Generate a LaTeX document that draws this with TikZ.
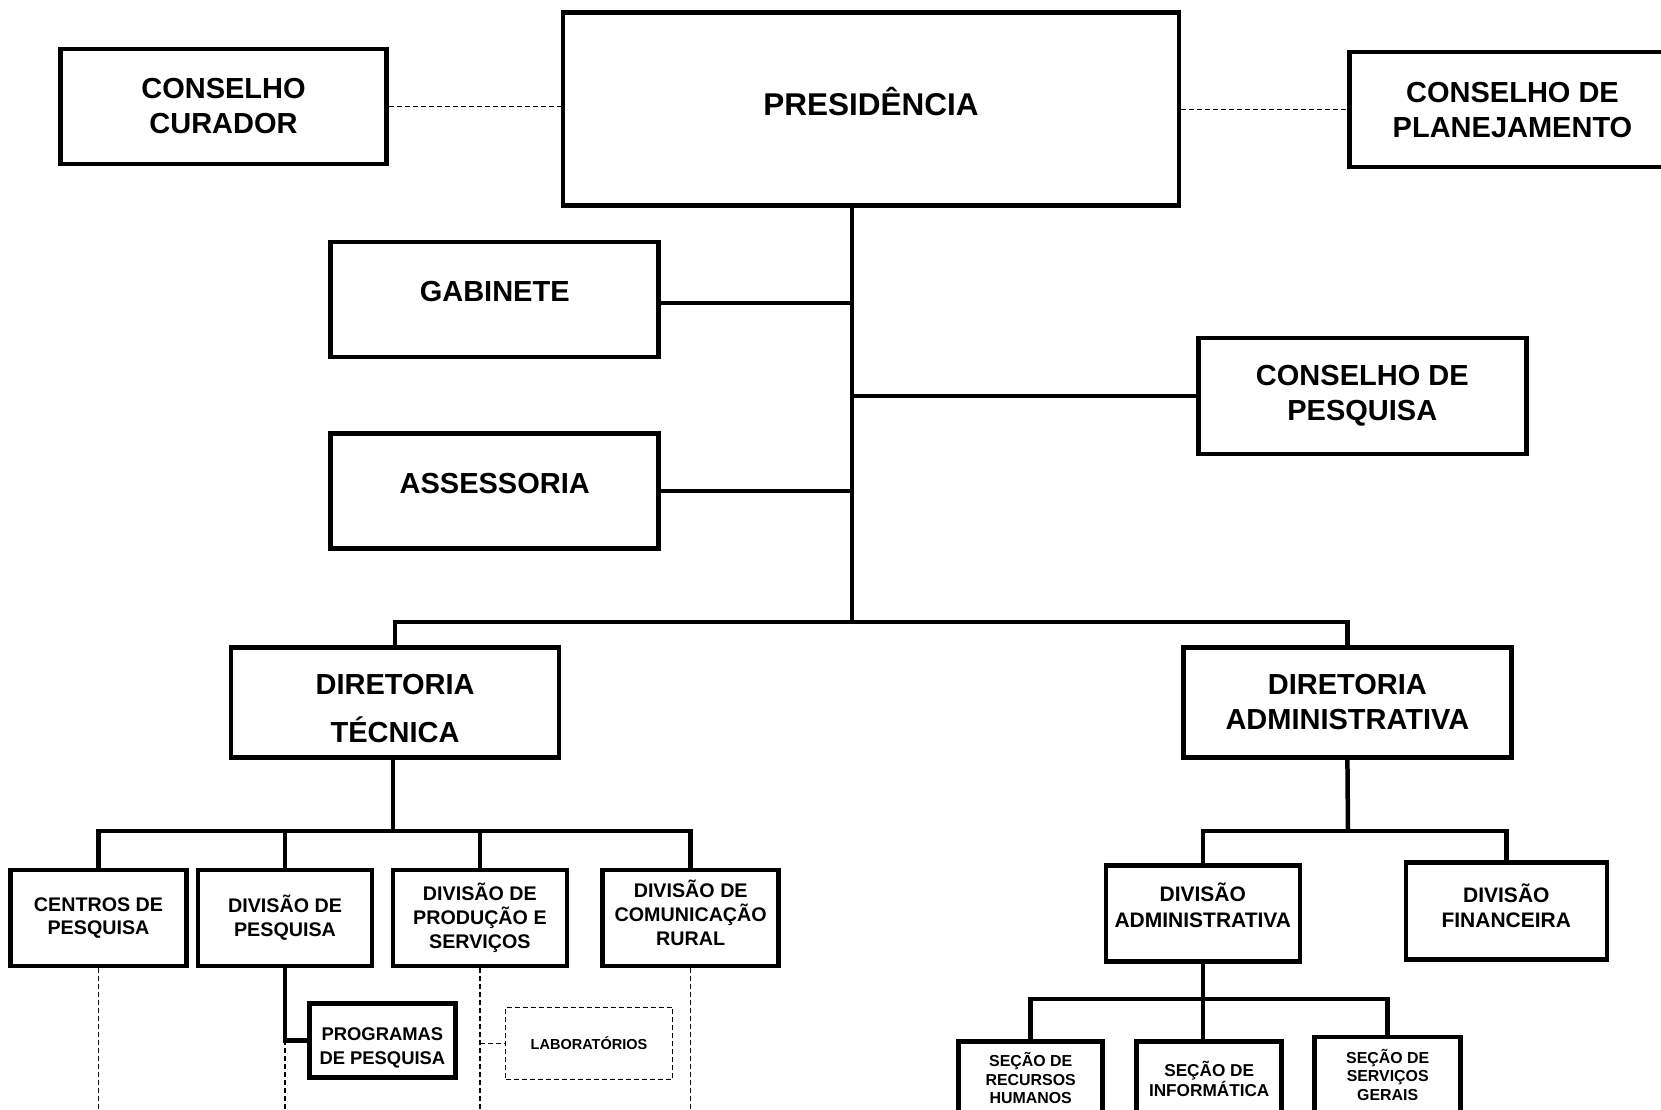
\documentclass[tikz,border=0pt]{standalone}
\usepackage{fontspec}
\setmainfont{Liberation Sans}
\usetikzlibrary{positioning}

\begin{document}
\begin{tikzpicture}[x=1pt,y=-1pt,every node/.style={align=center,inner sep=0pt},
  box/.style={draw,line width=4.5pt},
  big/.style={font=\fontsize{29}{35}\selectfont\bfseries},
  mid/.style={font=\fontsize{19.7}{23.8}\selectfont\bfseries},
  link/.style={line width=4.5pt},
  dashlink/.style={line width=1.2pt,dash pattern=on 5pt off 3pt}]
\useasboundingbox (0,0) rectangle (1661,1110);
\clip (0,0) rectangle (1661,1110);
% top level
\node[box,minimum width=616pt,minimum height=193pt,font=\fontsize{31.5}{38}\selectfont\bfseries,text height=22pt,text depth=8pt] (pres) at (871,109) {PRESIDÊNCIA};
\node[box,big,minimum width=326pt,minimum height=115pt] (ccur) at (223.5,106.5) {CONSELHO\\CURADOR};
\node[box,big,minimum width=326pt,minimum height=115pt] (cplan) at (1512.5,109.6) {CONSELHO DE\\PLANEJAMENTO};
\node[box,big,minimum width=328pt,minimum height=115pt,text height=21pt,text depth=16pt] (gab) at (494.7,299.3) {GABINETE};
\node[box,big,minimum width=328pt,minimum height=116pt] (cpesq) at (1362.3,396.2) {CONSELHO DE\\PESQUISA};
\node[box,big,minimum width=328pt,minimum height=115pt,text height=21pt,text depth=16pt] (assess) at (494.7,491) {ASSESSORIA};
\node[box,big,minimum width=328pt,minimum height=110pt] (dtec) at (395.1,702.3) {\rule{0pt}{32pt}DIRETORIA\\[13pt]TÉCNICA};
\node[box,big,minimum width=328pt,minimum height=110pt] (dadm) at (1347.4,702.3) {DIRETORIA\\ADMINISTRATIVA};
% divisions
\node[box,mid,minimum width=176pt,minimum height=96pt] (cent) at (98.5,918) {CENTROS DE\\PESQUISA};
\node[box,mid,minimum width=174pt,minimum height=96pt] (dpesq) at (285,918) {DIVISÃO DE\\PESQUISA};
\node[box,mid,minimum width=174pt,minimum height=96pt] (dprod) at (479.9,918) {DIVISÃO DE\\PRODUÇÃO E\\SERVIÇOS};
\node[box,mid,minimum width=176pt,minimum height=96pt] (dcom) at (690.7,918) {DIVISÃO DE\\COMUNICAÇÃO\\RURAL\rule[-11pt]{0pt}{0pt}};
\node[box,font=\fontsize{21}{25.4}\selectfont\bfseries,minimum width=194pt,minimum height=96pt] (divadm) at (1202.8,913.6) {DIVISÃO\\ADMINISTRATIVA\rule[-17pt]{0pt}{0pt}};
\node[box,font=\fontsize{21}{25.4}\selectfont\bfseries,minimum width=201pt,minimum height=97pt] (divfin) at (1506.3,911) {DIVISÃO\\FINANCEIRA\rule[-11pt]{0pt}{0pt}};
\node[box,font=\fontsize{18.4}{23.3}\selectfont\bfseries,minimum width=146pt,minimum height=74pt] (prog) at (382.4,1040.3) {\rule{0pt}{28pt}PROGRAMAS\\DE PESQUISA};
\node[draw,dashlink,font=\fontsize{14.5}{17}\selectfont\bfseries,minimum width=167pt,minimum height=72pt] (lab) at (589,1043.4) {LABORATÓRIOS};
% sections
\node[box,font=\fontsize{15.9}{18.5}\selectfont\bfseries,minimum width=144pt,minimum height=74pt] (srh) at (1030.7,1078.4) {SEÇÃO DE\\RECURSOS\\HUMANOS};
\node[box,font=\fontsize{17.2}{20}\selectfont\bfseries,minimum width=145pt,minimum height=75pt] (sinf) at (1209.2,1078.9) {SEÇÃO DE\\INFORMÁTICA};
\node[box,font=\fontsize{15.9}{18.5}\selectfont\bfseries,minimum width=146pt,minimum height=75pt] (ssg) at (1387.7,1074.7) {SEÇÃO DE\\SERVIÇOS\\GERAIS};
% bus points
\coordinate (trk) at (852,622);
\coordinate (tbus) at (393,831);
\coordinate (abus) at (1348,831);
\coordinate (sbus) at (1203,999);
\coordinate (bot) at (0,1116);
% connectors
\draw[dashlink] (ccur.east) -- (ccur.east -| pres.west);
\draw[dashlink] (pres.east |- cplan.west) -- (cplan.west);
\draw[link] (pres.south -| trk) -- (trk);
\draw[link] ([yshift=-3.5pt]gab.east) -- ([yshift=-3.5pt]gab.east -| trk);
\draw[link] (cpesq.west) -- (cpesq.west -| trk);
\draw[link] (assess.east) -- (assess.east -| trk);
\draw[link] (dtec.north) |- (trk) -| (dadm.north);
\draw[link] (dtec.south -| tbus) -- (tbus);
\draw[link] (cent.north) |- (tbus) -| (dcom.north);
\draw[link] (dpesq.north) -- (dpesq.north |- tbus);
\draw[link] (dprod.north) -- (dprod.north |- tbus);
\draw[link] (dadm.south) -- (abus);
\draw[link] (divadm.north) |- (abus) -| (divfin.north);
\draw[link] (divadm.south -| sbus) -- (sbus |- sinf.north);
\draw[link] (srh.north) |- (sbus) -| (ssg.north);
\draw[link] (dpesq.south) |- (prog.west);
\draw[dashlink] (dpesq.south |- prog.west) -- (dpesq.south |- bot);
\draw[dashlink] (cent.south) -- (cent.south |- bot);
\draw[dashlink] (dprod.south) -- (dprod.south |- bot);
\draw[dashlink] (dprod.south |- lab.west) -- (lab.west);
\draw[dashlink] (dcom.south) -- (dcom.south |- bot);
\end{tikzpicture}
\end{document}
